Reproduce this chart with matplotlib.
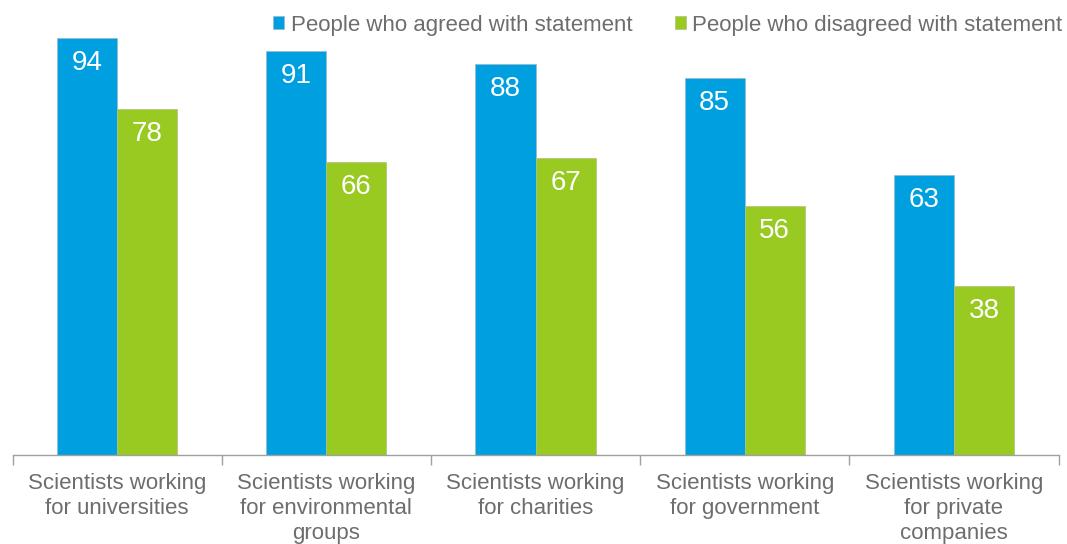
import matplotlib
matplotlib.use("Agg")
import matplotlib.pyplot as plt
import numpy as np

categories = ["Scientists working\nfor universities",
              "Scientists working\nfor environmental\ngroups",
              "Scientists working\nfor charities",
              "Scientists working\nfor government",
              "Scientists working\nfor private\ncompanies"]
agreed = [94, 91, 88, 85, 63]
disagreed = [78, 66, 67, 56, 38]
series_names = ["People who agreed with statement", "People who disagreed with statement"]

blue = "#00A0E0"
green = "#99CA22"
plt.rcParams['font.family'] = ['Liberation Sans', 'DejaVu Sans']

fig = plt.figure(figsize=(10.67, 5.44), dpi=100)
ax = fig.add_axes([12.5/1067, 1-455/544, 1046/1067, 444/544])

x = np.arange(len(categories))
w = 0.287
b1 = ax.bar(x - w/2, agreed, w, color=blue, edgecolor="#9ab8c8", linewidth=0.5, label=series_names[0])
b2 = ax.bar(x + w/2, disagreed, w, color=green, edgecolor="#b0c080", linewidth=0.5, label=series_names[1])

for bars, vals in ((b1, agreed), (b2, disagreed)):
    for r, v in zip(bars, vals):
        ax.annotate(str(v), (r.get_x() + r.get_width()/2, v), xytext=(0, -18),
                    textcoords="offset points", ha="center", va="center",
                    color="white", fontsize=20)

ax.set_xlim(-0.5, len(categories) - 0.5)
ax.set_ylim(0, 100)
ax.set_yticks([])
for s in ("top", "right", "left"):
    ax.spines[s].set_visible(False)
ax.spines["bottom"].set_color("#a0a0a0")
ax.spines["bottom"].set_linewidth(1)

ax.set_xticks(x)
ax.set_xticklabels(categories, fontsize=16, color="#6d6d6d", linespacing=1.25)
ax.tick_params(axis="x", which="major", length=0, pad=13)
ax.set_xticks(np.arange(-0.5, len(categories)), minor=True)
ax.tick_params(axis="x", which="minor", length=7, color="#a0a0a0", width=1)

leg = fig.legend(handles=[b1, b2], labels=series_names, loc="upper right",
                 bbox_to_anchor=(1078/1067, 1 + 1/544), ncol=2, frameon=False,
                 fontsize=16, handlelength=0.5, handleheight=0.5, handletextpad=0.3,
                 columnspacing=1.9, borderpad=0.2)
for t in leg.get_texts():
    t.set_color("#6d6d6d")

fig.savefig("out.png", dpi=100)
